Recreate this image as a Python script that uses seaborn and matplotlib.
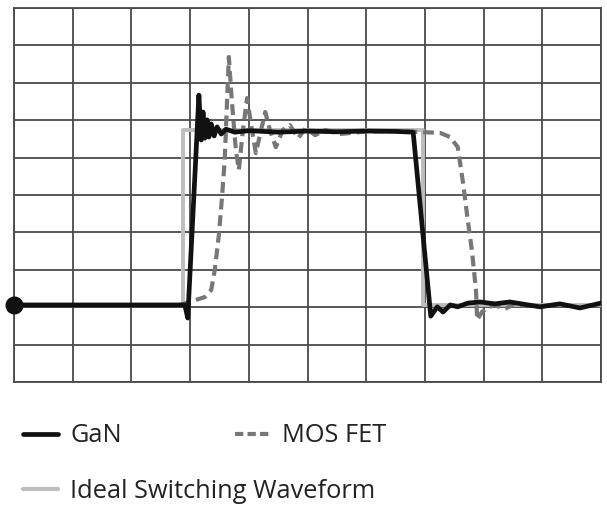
import matplotlib
matplotlib.use("Agg")
import matplotlib.pyplot as plt
import pandas as pd
import seaborn as sns

# Oscilloscope-style switching waveforms, in grid divisions (10 x 10)
gan_x = [0.00, 2.91, 2.96, 3.15, 3.19, 3.22, 3.25, 3.29, 3.32, 3.36, 3.41, 3.46,
         3.53, 3.61, 3.76, 4.00, 4.50, 5.00, 5.50, 6.00, 6.50, 6.80, 7.10, 7.21,
         7.31, 7.43, 7.56, 7.73, 7.94, 8.19, 8.45, 8.96, 9.30, 9.64, 10.00]
gan_y = [2.06, 2.06, 1.71, 7.67, 6.47, 7.22, 6.52, 7.01, 6.55, 6.90, 6.58, 6.82,
         6.63, 6.76, 6.68, 6.72, 6.68, 6.71, 6.69, 6.71, 6.70, 6.68, 1.76, 2.01,
         1.87, 2.06, 2.01, 2.11, 2.14, 2.09, 2.14, 2.01, 2.09, 1.98, 2.11]

mos_x = [2.83, 3.05, 3.25, 3.36, 3.42, 3.49, 3.54, 3.59, 3.63, 3.66, 3.71, 3.78,
         3.83, 3.90, 3.97, 4.04, 4.12, 4.21, 4.28, 4.36, 4.46, 4.58, 4.70, 4.84,
         4.97, 5.13, 5.30, 5.55, 6.00, 6.50, 6.97, 7.26, 7.43, 7.56, 7.65, 7.73,
         7.80, 7.87, 7.89, 7.97, 8.06, 8.19, 8.36, 8.53, 8.71]
mos_y = [2.06, 2.17, 2.27, 2.46, 2.99, 3.93, 4.87, 5.94, 7.54, 8.69, 7.54, 6.20,
         5.67, 6.74, 7.59, 6.87, 6.12, 6.74, 7.22, 6.74, 6.28, 6.74, 6.87, 6.52,
         6.79, 6.60, 6.74, 6.63, 6.70, 6.71, 6.68, 6.66, 6.55, 6.28, 5.32, 4.33,
         3.53, 2.46, 1.66, 1.87, 1.98, 2.06, 1.95, 2.09, 2.03]

ideal_x = [0.00, 2.88, 2.88, 6.97, 6.97, 10.00]
ideal_y = [2.06, 2.06, 6.74, 6.74, 2.06, 2.06]

labels = ["GaN", "MOS FET", "Ideal Switching Waveform"]

sns.set_theme(style="white")
plt.rcParams["font.family"] = ["Open Sans", "DejaVu Sans"]

fig = plt.figure(figsize=(6.07, 5.09), dpi=100)
ax = fig.add_axes([14 / 607, 1 - 382 / 509, 587 / 607, 374 / 509])

grid_color = "#4a4a4a"
ax.set_xlim(0, 10)
ax.set_ylim(0, 10)
ax.set_xticks(range(11))
ax.set_yticks(range(11))
ax.set_xticklabels([])
ax.set_yticklabels([])
ax.tick_params(length=0)
ax.grid(True, color=grid_color, linewidth=1.3)
for sp in ax.spines.values():
    sp.set_color(grid_color)
    sp.set_linewidth(1.3)

ideal = pd.DataFrame({"x": ideal_x, "y": ideal_y})
mos = pd.DataFrame({"x": mos_x, "y": mos_y})
gan = pd.DataFrame({"x": gan_x, "y": gan_y})

sns.lineplot(data=ideal, x="x", y="y", sort=False, estimator=None, ax=ax,
             color="#bdbdbd", linewidth=2.8, zorder=3)
sns.lineplot(data=mos, x="x", y="y", sort=False, estimator=None, ax=ax,
             color="#777777", linewidth=3.0, linestyle=(0, (2.6, 1.4)), zorder=4)
sns.lineplot(data=gan, x="x", y="y", sort=False, estimator=None, ax=ax,
             color="#111111", linewidth=3.4, zorder=5)
ax.plot([gan_x[0]], [gan_y[0]], "o", color="#111111", markersize=12,
        clip_on=False, zorder=6)
ax.set_xlabel("")
ax.set_ylabel("")

h_gan = plt.Line2D([], [], color="#111111", linewidth=3.4)
h_mos = plt.Line2D([], [], color="#777777", linewidth=3.0, linestyle=(0, (2.0, 1.0)))
h_ideal = plt.Line2D([], [], color="#bdbdbd", linewidth=3.0)

fs = 18.3
leg1 = fig.legend([h_gan, h_mos], labels[:2], ncol=2, loc="center left",
                  bbox_to_anchor=(23 / 607, 1 - 436 / 509), frameon=False,
                  fontsize=fs, handlelength=1.38, handletextpad=0.47,
                  columnspacing=4.45, borderpad=0, borderaxespad=0)
leg2 = fig.legend([h_ideal], labels[2:], loc="center left",
                  bbox_to_anchor=(23 / 607, 1 - 491 / 509), frameon=False,
                  fontsize=fs, handlelength=1.38, handletextpad=0.47,
                  borderpad=0, borderaxespad=0)
for leg in (leg1, leg2):
    for t in leg.get_texts():
        t.set_color("#222222")

fig.savefig("out.png", dpi=100)
